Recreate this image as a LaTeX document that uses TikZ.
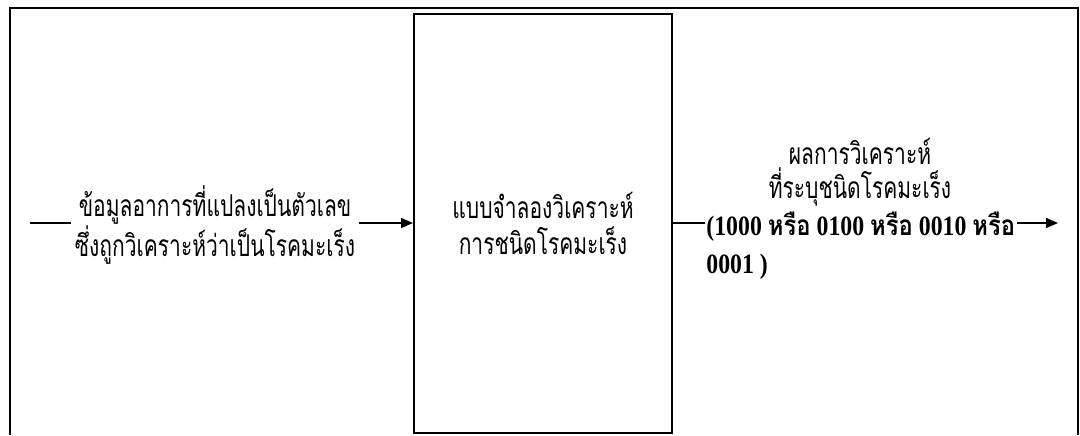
\documentclass[tikz,border=0pt]{standalone}
\usepackage{fontspec}
\setmainfont{Liberation Serif}
\newfontfamily\thaifont[Script=Thai, FakeStretch=0.7]{Loma}
\newfontfamily\codethai[Script=Thai, FakeStretch=0.85]{Loma}
\newfontfamily\codefont[FakeStretch=0.85]{Liberation Serif}
\usetikzlibrary{arrows.meta}
\tikzset{
  thaitext/.style={font=\thaifont\fontsize{15}{18}\selectfont, align=center, inner sep=2pt},
  codetext/.style={font=\codefont\bfseries\fontsize{14}{19}\selectfont, align=left, inner sep=2pt},
  link/.style={line width=0.8pt},
  arr/.style={link, -{Triangle[length=6pt,width=5pt]}},
}
\begin{document}
\begin{tikzpicture}[x=0.5pt,y=0.5pt]
\useasboundingbox (0,0) rectangle (1080,435);
\draw [line width=0.6pt] (10,0) -- (10,427) -- (1078,427) -- (1078,0);
\node [draw, line width=1pt, minimum width=129pt, minimum height=209.5pt, thaitext] (model) at (543,211.5) {แบบจำลองวิเคราะห์\\การชนิดโรคมะเร็ง};
\node [thaitext] (input) at (215,210) {ข้อมูลอาการที่แปลงเป็นตัวเลข\\ซึ่งถูกวิเคราะห์ว่าเป็นโรคมะเร็ง};
\coordinate (instart) at (30,212);
\draw [link] (instart) -- (input.west |- instart);
\draw [arr] (input.east |- instart) -- (model.west |- instart);
\node [thaitext, font=\thaifont\fontsize{15}{17}\selectfont] (result) at (860,263) {ผลการวิเคราะห์\\ที่ระบุชนิดโรคมะเร็ง};
\node [codetext, anchor=west] (code) at (702,189) {(1000 {\codethai หรือ} 0100 {\codethai หรือ} 0010 {\codethai หรือ}\\0001 )};
\coordinate (outmid) at (705,212);
\draw [link] (model.east |- outmid) -- (outmid);
\coordinate (outtail) at (1017,212);
\coordinate (outtip) at (1058,212);
\draw [arr] (outtail) -- (outtip);
\end{tikzpicture}
\end{document}
